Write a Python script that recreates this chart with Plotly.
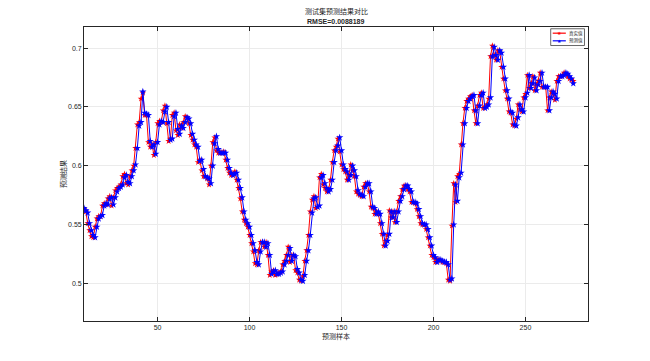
import plotly.graph_objects as go

x_start = 10
true_vals = [
    0.563, 0.561, 0.551, 0.545, 0.540, 0.539, 0.548, 0.555, 0.557, 0.557,
    0.566, 0.568, 0.567, 0.572, 0.574, 0.566, 0.573, 0.579, 0.581, 0.582,
    0.584, 0.591, 0.593, 0.585, 0.584, 0.591, 0.596, 0.600, 0.615, 0.635,
    0.637, 0.657, 0.662, 0.643, 0.643, 0.620, 0.616, 0.618, 0.609, 0.620,
    0.636, 0.638, 0.637, 0.647, 0.651, 0.636, 0.621, 0.623, 0.643, 0.645,
    0.630, 0.626, 0.635, 0.632, 0.637, 0.642, 0.641, 0.636, 0.626, 0.622,
    0.618, 0.616, 0.603, 0.605, 0.596, 0.591, 0.591, 0.589, 0.584, 0.600,
    0.620, 0.624, 0.613, 0.611, 0.611, 0.611, 0.612, 0.605, 0.598, 0.594,
    0.592, 0.593, 0.595, 0.588, 0.581, 0.572, 0.561, 0.554, 0.551, 0.548,
    0.541, 0.534, 0.527, 0.517, 0.516, 0.528, 0.535, 0.535, 0.531, 0.535,
    0.524, 0.507, 0.510, 0.511, 0.507, 0.508, 0.509, 0.510, 0.516, 0.519,
    0.524, 0.531, 0.518, 0.524, 0.524, 0.511, 0.509, 0.503, 0.502, 0.506,
    0.519, 0.528, 0.541, 0.561, 0.571, 0.574, 0.564, 0.565, 0.590, 0.593,
    0.584, 0.581, 0.578, 0.580, 0.588, 0.603, 0.613, 0.616, 0.623, 0.612,
    0.601, 0.597, 0.595, 0.588, 0.592, 0.601, 0.596, 0.591, 0.578, 0.576,
    0.575, 0.574, 0.582, 0.585, 0.585, 0.578, 0.565, 0.564, 0.559, 0.561,
    0.559, 0.551, 0.542, 0.532, 0.536, 0.541, 0.562, 0.556, 0.561, 0.552,
    0.561, 0.570, 0.574, 0.580, 0.583, 0.583, 0.580, 0.578, 0.569, 0.569,
    0.568, 0.563, 0.557, 0.551, 0.550, 0.550, 0.546, 0.539, 0.532, 0.524,
    0.522, 0.518, 0.520, 0.520, 0.519, 0.518, 0.518, 0.517, 0.503, 0.502,
    0.549, 0.585, 0.569, 0.591, 0.593, 0.618, 0.636, 0.649, 0.655, 0.657,
    0.659, 0.660, 0.647, 0.636, 0.651, 0.660, 0.662, 0.649, 0.650, 0.652,
    0.657, 0.693, 0.702, 0.694, 0.690, 0.698, 0.697, 0.684, 0.674, 0.664,
    0.657, 0.646, 0.645, 0.635, 0.634, 0.640, 0.652, 0.648, 0.646, 0.658,
    0.661, 0.677, 0.666, 0.670, 0.676, 0.664, 0.669, 0.672, 0.679, 0.667,
    0.667, 0.667, 0.647, 0.658, 0.663, 0.661, 0.656, 0.672, 0.676, 0.676,
    0.677, 0.679, 0.678, 0.676, 0.674, 0.673, 0.672,
]
pred_vals = [
    0.564, 0.562, 0.560, 0.551, 0.545, 0.541, 0.539, 0.548, 0.555, 0.557,
    0.558, 0.566, 0.568, 0.567, 0.572, 0.573, 0.567, 0.573, 0.578, 0.581,
    0.582, 0.584, 0.590, 0.592, 0.586, 0.585, 0.591, 0.596, 0.601, 0.615,
    0.634, 0.637, 0.663, 0.645, 0.644, 0.643, 0.621, 0.616, 0.618, 0.610,
    0.620, 0.635, 0.638, 0.637, 0.646, 0.650, 0.637, 0.622, 0.623, 0.642,
    0.645, 0.631, 0.627, 0.634, 0.632, 0.637, 0.641, 0.640, 0.636, 0.627,
    0.622, 0.618, 0.616, 0.604, 0.605, 0.597, 0.591, 0.590, 0.589, 0.585,
    0.600, 0.619, 0.625, 0.614, 0.611, 0.611, 0.611, 0.611, 0.605, 0.598,
    0.594, 0.592, 0.593, 0.594, 0.588, 0.581, 0.573, 0.561, 0.554, 0.551,
    0.548, 0.541, 0.534, 0.528, 0.518, 0.516, 0.527, 0.535, 0.535, 0.531,
    0.534, 0.524, 0.508, 0.510, 0.511, 0.508, 0.508, 0.509, 0.510, 0.516,
    0.519, 0.524, 0.530, 0.519, 0.524, 0.523, 0.512, 0.509, 0.503, 0.502,
    0.507, 0.519, 0.528, 0.541, 0.560, 0.572, 0.573, 0.565, 0.566, 0.590,
    0.592, 0.585, 0.581, 0.578, 0.580, 0.588, 0.603, 0.613, 0.617, 0.624,
    0.613, 0.601, 0.597, 0.595, 0.588, 0.592, 0.600, 0.596, 0.591, 0.579,
    0.576, 0.575, 0.574, 0.582, 0.585, 0.585, 0.578, 0.565, 0.564, 0.559,
    0.561, 0.559, 0.551, 0.542, 0.532, 0.536, 0.542, 0.561, 0.556, 0.561,
    0.552, 0.561, 0.570, 0.574, 0.580, 0.583, 0.583, 0.580, 0.578, 0.569,
    0.569, 0.568, 0.563, 0.557, 0.551, 0.550, 0.550, 0.546, 0.539, 0.532,
    0.524, 0.522, 0.518, 0.520, 0.520, 0.519, 0.518, 0.518, 0.516, 0.503,
    0.504, 0.550, 0.584, 0.570, 0.590, 0.594, 0.618, 0.636, 0.649, 0.655,
    0.657, 0.659, 0.660, 0.647, 0.636, 0.651, 0.660, 0.662, 0.649, 0.650,
    0.652, 0.658, 0.693, 0.701, 0.694, 0.690, 0.698, 0.696, 0.684, 0.674,
    0.664, 0.657, 0.646, 0.645, 0.635, 0.634, 0.641, 0.652, 0.648, 0.646,
    0.658, 0.662, 0.677, 0.666, 0.670, 0.675, 0.664, 0.669, 0.672, 0.679,
    0.667, 0.667, 0.667, 0.647, 0.658, 0.663, 0.661, 0.657, 0.672, 0.676,
    0.676, 0.677, 0.679, 0.678, 0.676, 0.674, 0.670,
]
x_vals = list(range(x_start, x_start + len(true_vals)))

x_ticks = [50, 100, 150, 200, 250]
y_ticks = [0.5, 0.55, 0.6, 0.65, 0.7]
y_tick_labels = ["0.5", "0.55", "0.6", "0.65", "0.7"]

title_cn = "测试集预测结果对比"
title_rmse = "RMSE=0.0088189"
x_label = "预测样本"
y_label = "预测结果"
name_true = "真实值"
name_pred = "预测值"
color_true = "#FF0000"
color_pred = "#0000FF"

cjk = "Noto Sans CJK SC"
sans = "Liberation Sans, Arial, sans-serif"
tick_col = "#262626"

fig = go.Figure()
fig.add_trace(go.Scatter(
    x=x_vals, y=true_vals, mode="lines+markers", name=name_true,
    line=dict(color=color_true, width=1),
    marker=dict(symbol="star", size=5, color=color_true),
))
fig.add_trace(go.Scatter(
    x=x_vals, y=pred_vals, mode="lines+markers", name=name_pred,
    line=dict(color=color_pred, width=1),
    marker=dict(symbol="star", size=5.5, color=color_pred),
))

axis_common = dict(
    showline=True, linecolor="#262626", linewidth=0.8, mirror="allticks",
    ticks="inside", ticklen=4, tickwidth=0.7, tickcolor="#262626",
    showgrid=True, gridcolor="#EBEBEB", gridwidth=0.7, zeroline=False,
    automargin=False,
    tickfont=dict(family=sans, size=7, color=tick_col),
)

# compact MATLAB-style legend box (top-right, inside the axes)
leg_x0, leg_x1, leg_y0, leg_y1 = 0.926, 0.993, 0.937, 0.994
leg_rows = [(name_true, color_true, 0.979), (name_pred, color_pred, 0.953)]
shapes = [dict(type="rect", xref="paper", yref="paper", x0=leg_x0, x1=leg_x1, y0=leg_y0, y1=leg_y1,
               fillcolor="white", line=dict(color="#262626", width=0.7), layer="above")]
annotations = [
    dict(text=title_cn, x=0.5, y=1, xref="paper", yref="paper", xanchor="center", yanchor="bottom",
         yshift=9, showarrow=False, font=dict(family=cjk, size=7, color="#262626")),
    dict(text="<b>" + title_rmse + "</b>", x=0.5, y=1, xref="paper", yref="paper", xanchor="center",
         yanchor="bottom", yshift=0, showarrow=False, font=dict(family=sans, size=7, color="#262626")),
]
for name, col, yy in leg_rows:
    shapes.append(dict(type="line", xref="paper", yref="paper", x0=0.930, x1=0.956, y0=yy, y1=yy,
                       line=dict(color=col, width=1.2), layer="above"))
    annotations.append(dict(text="★", x=0.943, y=yy, xref="paper", yref="paper", xanchor="center",
                            yanchor="middle", showarrow=False, borderpad=0,
                            font=dict(family="DejaVu Sans", size=5, color=col)))
    annotations.append(dict(text=name, x=0.961, y=yy, xref="paper", yref="paper", xanchor="left",
                            yanchor="middle", showarrow=False, borderpad=0,
                            font=dict(family=cjk, size=4.5, color="#262626")))

fig.update_layout(
    width=650, height=361,
    paper_bgcolor="white", plot_bgcolor="white",
    margin=dict(l=84, r=62, t=27, b=40, autoexpand=False),
    showlegend=False,
    xaxis=dict(range=[10, 284], tickvals=x_ticks,
               title=dict(text=x_label, font=dict(family=cjk, size=7, color=tick_col), standoff=2),
               **axis_common),
    yaxis=dict(range=[0.468, 0.718], tickvals=y_ticks, ticktext=y_tick_labels,
               title=dict(text=y_label, font=dict(family=cjk, size=7, color=tick_col), standoff=0),
               **axis_common),
    shapes=shapes,
    annotations=annotations,
)

fig.write_html("out.html", config={"displayModeBar": False},
               post_script="document.body.style.margin='0';document.body.style.overflow='hidden';")
